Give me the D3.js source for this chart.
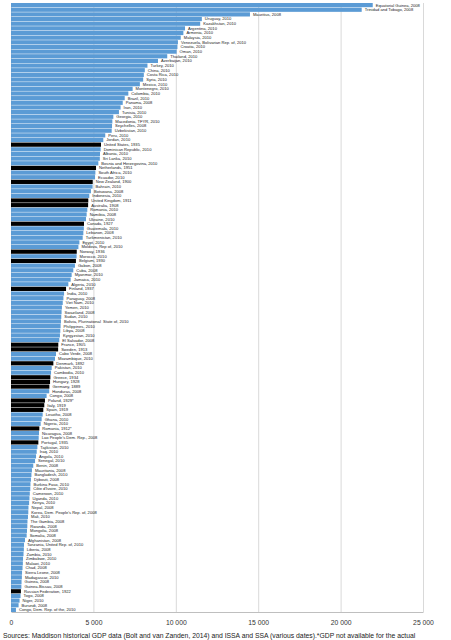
<!DOCTYPE html>
<html>
<head>
<meta charset="utf-8">
<script src="https://cdn.jsdelivr.net/npm/d3@7/dist/d3.min.js"></script>
<style>
  body { margin: 0; background: #fff; }
  svg { display: block; }
</style>
</head>
<body>
<div class="canvas"></div>
<script>
// country, year of observation, GDP per capita (1990 int. GK$)
var countries = ["Equatorial Guinea", "Trinidad and Tobago", "Mauritius", "Uruguay", "Kazakhstan", "Argentina", "Armenia", "Malaysia",
  "Venezuela, Bolivarian Rep. of", "Croatia", "Oman", "Thailand", "Azerbaijan", "Turkey", "China", "Costa Rica", "Syria", "Mexico",
  "Montenegro", "Colombia", "Brazil", "Panama", "Iran", "Tunisia", "Georgia", "Macedonia, TFYR", "Seychelles", "Uzbekistan", "Peru",
  "Jordan", "United States", "Dominican Republic", "Albania", "Sri Lanka", "Bosnia and Herzegovina", "Netherlands", "South Africa",
  "Ecuador", "New Zealand", "Bahrain", "Botswana", "Indonesia", "United Kingdom", "Australia", "Romania", "Namibia", "Ukraine",
  "Canada", "Guatemala", "Lebanon", "Turkmenistan", "Egypt", "Moldova, Rep of", "Norway", "Morocco", "Belgium", "Gabon", "Cuba",
  "Myanmar", "Jamaica", "Algeria", "Finland", "India", "Paraguay", "Viet Nam", "Yemen", "Swaziland", "Sudan",
  "Bolivia, Plurinational  State of", "Philippines", "Libya", "Kyrgyzstan", "El Salvador", "France", "Sweden", "Cabo Verde",
  "Mozambique", "Denmark", "Pakistan", "Cambodia", "Greece", "Hungary", "Germany", "Honduras", "Congo", "Poland", "Italy", "Spain",
  "Lesotho", "Ghana", "Nigeria", "Romania", "Nicaragua", "Lao People's Dem. Rep.", "Portugal", "Tajikistan", "Iraq", "Angola",
  "Senegal", "Benin", "Mauritania", "Bangladesh", "Djibouti", "Burkina Faso", "Côte d'Ivoire", "Cameroon", "Uganda", "Kenya",
  "Nepal", "Korea, Dem. People's Rep. of", "Mali", "The Gambia", "Rwanda", "Mongolia", "Somalia", "Afghanistan",
  "Tanzania, United Rep. of", "Liberia", "Zambia", "Zimbabwe", "Malawi", "Chad", "Sierra Leone", "Madagascar", "Guinea",
  "Guinea-Bissau", "Russian Federation", "Togo", "Niger", "Burundi", "Congo, Dem. Rep. of the"];

var years = ["2008", "2008", "2008", "2010", "2010", "2010", "2010", "2010", "2010", "2010", "2010", "2010", "2010", "2010",
  "2010", "2010", "2010", "2010", "2010", "2010", "2010", "2008", "2010", "2010", "2010", "2010", "2008", "2010", "2010", "2010",
  "1935", "2010", "2010", "2010", "2010", "1951", "2010", "2010", "1900", "2010", "2008", "2010", "1911", "1908", "2010", "2008",
  "2010", "1927", "2010", "2008", "2010", "2010", "2010", "1936", "2010", "1930", "2008", "2008", "2010", "2010", "2010", "1937",
  "2010", "2008", "2010", "2010", "2008", "2010", "2010", "2010", "2008", "2010", "2008", "1905", "1913", "2008", "2010", "1892",
  "2010", "2010", "1934", "1928", "1889", "2008", "2008", "1929*", "1919", "1919", "2008", "2010", "2010", "1912*", "2008", "2008",
  "1935", "2010", "2010", "2010", "2010", "2008", "2008", "2010", "2008", "2010", "2010", "2010", "2010", "2010", "2008", "2008",
  "2010", "2008", "2008", "2008", "2008", "2008", "2010", "2008", "2010", "2010", "2010", "2008", "2008", "2010", "2008", "2008",
  "1922", "2008", "2010", "2008", "2010"];

var gdp = [21950, 21280, 14500, 11580, 11480, 10560, 10460, 10300, 10130, 10100, 10050, 9480, 8920, 8280, 8120, 8060, 8020,
  7820, 7380, 7120, 6900, 6780, 6650, 6550, 6210, 6150, 6130, 6110, 5720, 5600, 5460, 5440, 5400, 5390, 5300, 5160, 5120,
  5100, 4960, 4950, 4850, 4750, 4690, 4680, 4630, 4590, 4550, 4430, 4420, 4390, 4350, 4150, 4090, 3990, 3980, 3940, 3880,
  3780, 3680, 3620, 3480, 3340, 3220, 3180, 3140, 3090, 3070, 3050, 3030, 3010, 2990, 2970, 2930, 2870, 2860, 2730, 2670,
  2570, 2470, 2430, 2390, 2370, 2330, 2320, 2160, 2060, 2020, 1960, 1920, 1860, 1800, 1720, 1700, 1680, 1660, 1600, 1560,
  1520, 1460, 1350, 1270, 1240, 1210, 1180, 1170, 1140, 1120, 1100, 1060, 1050, 1030, 1000, 990, 970, 950, 850, 790, 780,
  760, 730, 720, 700, 670, 660, 640, 630, 600, 580, 520, 460, 300];

var xTicks = [0, 5000, 10000, 15000, 20000, 25000];

var sourceNote = "Sources: Maddison historical GDP data (Bolt and van Zanden, 2014) and ISSA and SSA (various dates).*GDP not available for the actual";

var width = 451, height = 640;
var margin = {top: 3, right: 28, bottom: 28, left: 11};

var rows = countries.map(function (c, i) {
  return {country: c, year: years[i], value: gdp[i], label: c + ", " + years[i]};
});

var svg = d3.select(".canvas").append("svg")
  .attr("width", width)
  .attr("height", height);

var x = d3.scaleLinear()
  .domain([0, 25000])
  .range([margin.left, width - margin.right]);

var y = d3.scaleBand()
  .domain(rows.map(function (d, i) { return i; }))
  .range([margin.top, height - margin.bottom])
  .paddingInner(0.1);

// gridlines
svg.append("g")
  .selectAll("line")
  .data(xTicks)
  .join("line")
  .attr("x1", function (d) { return x(d) + 0.5; })
  .attr("x2", function (d) { return x(d) + 0.5; })
  .attr("y1", margin.top)
  .attr("y2", height - margin.bottom)
  .attr("stroke", "#d9d9d9")
  .attr("stroke-width", 1);

// bars, black where the year is pre-2000 (historical comparison)
svg.append("g")
  .selectAll("rect")
  .data(rows)
  .join("rect")
  .attr("x", x(0))
  .attr("y", function (d, i) { return y(i); })
  .attr("width", function (d) { return x(d.value) - x(0); })
  .attr("height", y.bandwidth())
  .attr("fill", function (d) { return parseInt(d.year) < 2000 ? "#000000" : "#5b9bd5"; });

// bar labels
svg.append("g")
  .selectAll("text")
  .data(rows)
  .join("text")
  .attr("x", function (d) { return x(d.value) + 3; })
  .attr("y", function (d, i) { return y(i) + y.bandwidth() / 2; })
  .attr("dy", "0.35em")
  .attr("font-family", "Liberation Sans, Arial, sans-serif")
  .attr("font-size", "4.1px")
  .attr("fill", "#222")
  .style("white-space", "pre")
  .text(function (d) { return d.label; });

// x axis
var axis = svg.append("g")
  .attr("transform", "translate(0," + (height - margin.bottom) + ")")
  .call(d3.axisBottom(x).tickValues(xTicks).tickSize(0).tickPadding(8).tickFormat(function (d) {
    return d3.format(",")(d).replace(/,/g, " ");
  }));
axis.select(".domain").attr("stroke", "#bfbfbf");
axis.selectAll("text")
  .attr("font-family", "Liberation Sans, Arial, sans-serif")
  .attr("font-size", "6.8px")
  .attr("fill", "#333");

// source note
svg.append("text")
  .attr("x", 3)
  .attr("y", height - 2.5)
  .attr("font-family", "Liberation Sans, Arial, sans-serif")
  .attr("font-size", "6.8px")
  .attr("fill", "#222")
  .text(sourceNote);
</script>
</body>
</html>
